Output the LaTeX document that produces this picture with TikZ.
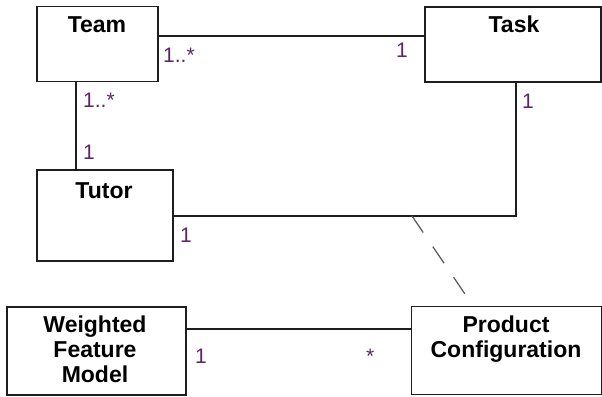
\documentclass[tikz,border=0pt]{standalone}
\usepackage{fontspec}
\setmainfont{Liberation Sans}
\usepackage{tikz}
\usetikzlibrary{positioning}
\usetikzlibrary{calc}

\definecolor{multcol}{RGB}{92,38,104}
\definecolor{linecol}{RGB}{30,30,30}
\definecolor{dashcol}{RGB}{95,95,95}

\begin{document}
\begin{tikzpicture}[x=1pt,y=-1pt]

% used shapes
\tikzstyle{classbox} = [rectangle, draw=linecol, line width=1.4pt, inner sep=0pt]
\tikzstyle{classname} = [font=\fontsize{23}{25}\selectfont\bfseries, text=black, align=center, anchor=base, inner sep=0pt]
\tikzstyle{mult} = [font=\fontsize{21}{24}\selectfont, text=multcol, anchor=base west, inner sep=0pt]
\tikzstyle{assoc} = [draw=linecol, line width=1.4pt]

\useasboundingbox (0,0) rectangle (602,396);

% classes
\node [classbox, minimum width=121, minimum height=75] (team) at (97.5,44) {};
\node [classbox, minimum width=176, minimum height=75] (task) at (513,44.5) {};
\node [classbox, minimum width=136, minimum height=91] (tutor) at (105,215.5) {};
\node [classbox, minimum width=179, minimum height=88] (wfm) at (96.5,351) {};
\node [classbox, minimum width=190, minimum height=88] (prodconf) at (506.5,350.5) {};

\node [classname] (teamname) at (97,33) {Team};
\node [classname] (taskname) at (514,33) {Task};
\node [classname] (tutorname) at (104,198) {Tutor};
\node [classname, anchor=north] (wfmname) at (95,315.5) {Weighted\\Feature\\Model};
\node [classname, anchor=north] (prodconfname) at (506,315.5) {Product\\Configuration};

% associations
\coordinate (tutorright) at (tutor.east |- 0,216);
\coordinate (bend) at (516,216);
\coordinate (dashstart) at (412,216);

\draw [assoc] (team.east |- 0,36) -- (task.west |- 0,36);
\draw [assoc] (team.south -| 76,0) -- (tutor.north -| 76,0);
\draw [assoc] (tutorright) -- (bend) -- (bend |- task.south);
\draw [assoc] (wfm.east |- 0,329) -- (prodconf.west |- 0,329);
\draw [dashcol, line width=1.3pt, dash pattern=on 20pt off 17pt] (dashstart) -- (prodconf.north -| 473,0);

% multiplicities
\node [mult] (m1) at (163,63) {1..*};
\node [mult] (m2) at (396,57) {1};
\node [mult] (m3) at (83,107) {1..*};
\node [mult] (m4) at (83,159) {1};
\node [mult] (m5) at (180,242) {1};
\node [mult] (m6) at (522,108) {1};
\node [mult] (m7) at (195,363) {1};
\node [mult] (m8) at (366,363) {*};

\end{tikzpicture}
\end{document}
